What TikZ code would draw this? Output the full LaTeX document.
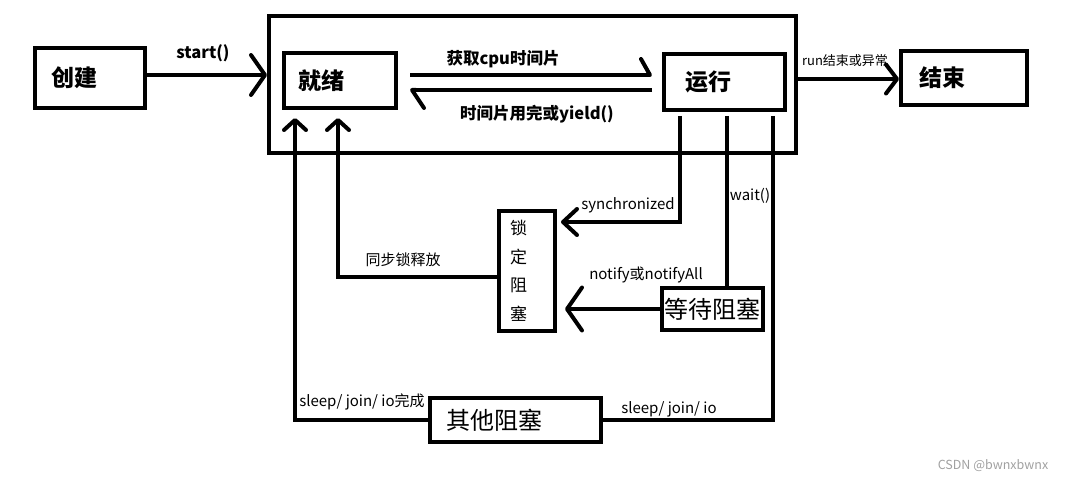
\documentclass[tikz,border=0pt]{standalone}
\usepackage{fontspec}
\setmainfont{Noto Sans CJK SC}
\usetikzlibrary{arrows.meta}
\definecolor{wm}{RGB}{160,160,160}
\begin{document}
\begin{tikzpicture}[x=1pt,y=-1pt,
  box/.style={draw, line width=4pt, rectangle, inner sep=0pt},
  tbold/.style={font=\bfseries\fontsize{23}{27}\selectfont},
  tnorm/.style={font=\fontsize{24}{28}\selectfont},
  conn/.style={line width=4pt},
  lbl/.style={font=\fontsize{15}{18}\selectfont, inner sep=0pt},
  blbl/.style={font=\bfseries\fontsize{16.5}{20}\selectfont, inner sep=0pt},
  slbl/.style={font=\fontsize{13}{16}\selectfont, inner sep=0pt},
]
\useasboundingbox (0,0) rectangle (1066,481);

% nodes
\node[box, tbold, minimum width=110pt, minimum height=60pt, text width=78pt, inner xsep=16pt, align=left] (create) at (90,78) {创建};
\node[box, minimum width=527pt, minimum height=137pt] (outer) at (532.5,84.5) {};
\node[box, tbold, minimum width=112pt, minimum height=55pt, text width=84pt, inner xsep=14pt, align=left] (ready) at (340,80.5) {就绪};
\node[box, tbold, minimum width=121pt, minimum height=56pt, text width=79pt, inner xsep=21pt, align=left] (run) at (724.5,82) {运行};
\node[box, tbold, minimum width=126pt, minimum height=54pt, text width=90pt, inner xsep=18pt, align=left] (end) at (964,78) {结束};
\node[box, font=\fontsize{17}{28.5}\selectfont, minimum width=56pt, minimum height=120pt, text width=34pt, inner xsep=11pt, align=left] (lock) at (527,271) {锁\\定\\阻\\塞};
\node[box, tnorm, minimum width=101pt, minimum height=42pt] (wait) at (712.5,309) {等待阻塞};
\node[box, tnorm, minimum width=171pt, minimum height=44pt, text width=139pt, inner xsep=16pt, align=left] (other) at (515.5,420) {其他阻塞};

% connectors
\draw[conn, -{Straight Barb[length=14pt,width=40pt,round]}] (create.east |- 0,75) -- (outer.west |- 0,75);
\draw[conn, shorten <=12pt, shorten >=10pt, -{Straight Barb[harpoon,length=9pt,width=32pt,round]}] (ready.east |- 0,75) -- (run.west |- 0,75);
\draw[conn, shorten <=10pt, shorten >=12pt, -{Straight Barb[harpoon,length=12pt,width=36pt,round]}] (run.west |- 0,90) -- (ready.east |- 0,90);
\draw[conn, -{Straight Barb[length=11pt,width=29pt,round]}] (outer.east |- 0,79) -- (end.west |- 0,79);
\draw[conn, shorten <=4pt, shorten >=4pt, -{Straight Barb[length=14pt,width=26pt,round]}] (run.south -| 680,0) |- (lock.east |- 0,222);
\draw[conn, shorten <=4pt] (run.south -| 727,0) -- (wait.north -| 727,0);
\draw[conn, shorten >=8pt, -{Straight Barb[length=15pt,width=43pt,round]}] (wait.west) -- (lock.east |- wait.west);
\draw[conn, shorten <=4pt] (run.south -| 773,0) |- (other.east);
\draw[conn, shorten >=8pt, -{Straight Barb[length=10pt,width=22pt,round]}] (other.west) -| (ready.south -| 295,0);
\draw[conn, shorten >=8pt, -{Straight Barb[length=10pt,width=22pt,round]}] (lock.west |- 0,277) -| (ready.south -| 338,0);

% labels
\node[blbl] (lstart) at (203,53) {start()};
\node[blbl] (lcpu) at (503,59) {获取cpu时间片};
\node[blbl] (lyield) at (537,114) {时间片用完或yield()};
\node[slbl] (lend) at (845,61) {run结束或异常};
\node[lbl] (lsync) at (628,205) {synchronized};
\node[lbl] (lrel) at (403,260) {同步锁释放};
\node[lbl] (lwait) at (750,196) {wait()};
\node[lbl] (lnotify) at (646,275) {notify或notifyAll};
\node[lbl] (lsleep1) at (362,402) {sleep/ join/ io完成};
\node[lbl] (lsleep2) at (669,409) {sleep/ join/ io};
\node[font=\fontsize{12.5}{15}\selectfont, text=wm, inner sep=0pt] (wmk) at (993,466) {CSDN @bwnxbwnx};
\end{tikzpicture}
\end{document}
